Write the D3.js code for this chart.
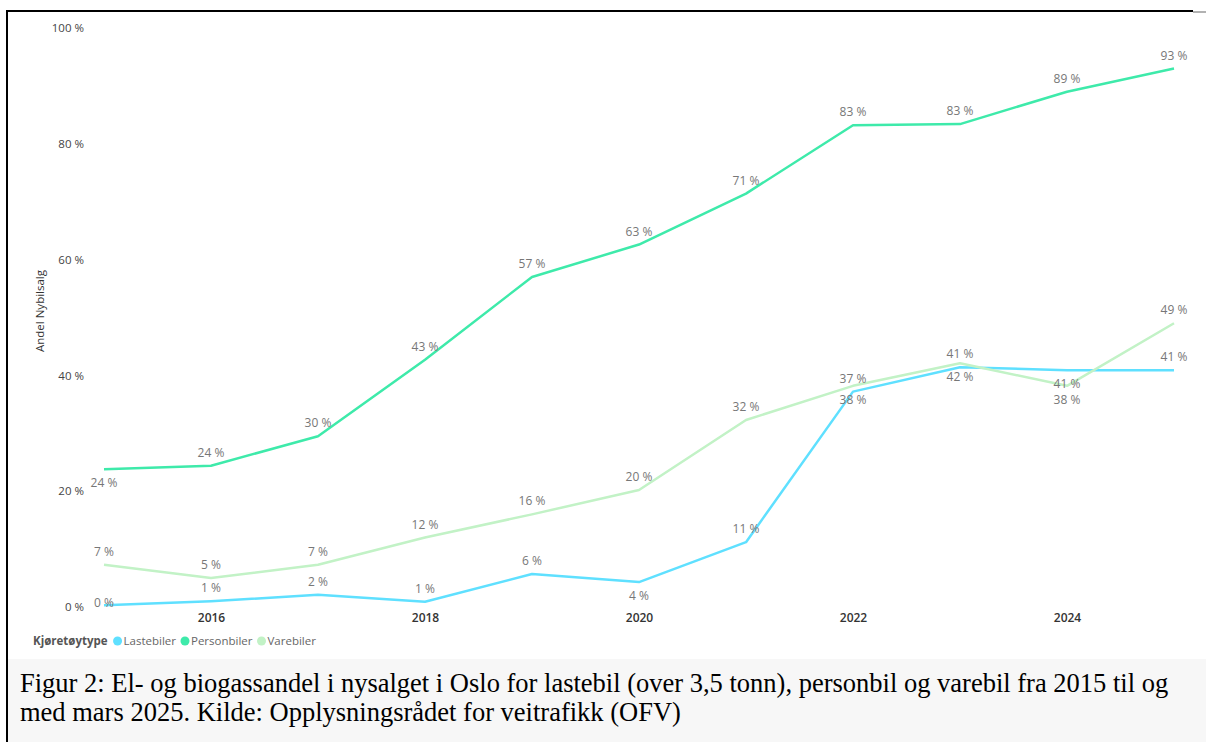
<!DOCTYPE html>
<html>
<head>
<meta charset="utf-8">
<script src="https://cdn.jsdelivr.net/npm/d3@7"></script>
<style>
  body { margin: 0; background: #fff; }
  svg { display: block; }
</style>
</head>
<body>
<svg id="chart" width="1206" height="742"></svg>
<script>
const years = [2015, 2016, 2017, 2018, 2019, 2020, 2021, 2022, 2023, 2024, 2025];
const lastebiler = [0.3, 1.0, 2.1, 0.9, 5.7, 4.3, 11.2, 37.2, 41.4, 40.9, 40.9];
const personbiler = [23.8, 24.4, 29.5, 42.7, 57.0, 62.6, 71.4, 83.2, 83.4, 89.0, 93.0];
const varebiler = [7.3, 5.0, 7.3, 12.0, 16.0, 20.2, 32.3, 38.2, 42.1, 38.2, 49.0];
const yTicks = [0, 20, 40, 60, 80, 100];
const xTicks = [2016, 2018, 2020, 2022, 2024];

// which labels Power BI pushed below the line (by year)
const series = [
  { name: "Lastebiler", values: lastebiler, color: "#5fe0ff", below: [2020, 2024], mid: [2015] },
  { name: "Personbiler", values: personbiler, color: "#3eeaaa", below: [2015], mid: [] },
  { name: "Varebiler", values: varebiler, color: "#c2f2c6", below: [2022, 2023, 2024], mid: [] }
];

const svg = d3.select("#chart");
const font = "'Open Sans', 'Noto Sans', sans-serif";

// caption background + frame
svg.append("rect").attr("x", 7).attr("y", 659).attr("width", 1199).attr("height", 83).attr("fill", "#f7f7f7");
svg.append("line").attr("x1", 6).attr("x2", 1193).attr("y1", 11).attr("y2", 11)
  .attr("stroke", "#000").attr("stroke-width", 2);
svg.append("line").attr("x1", 1193).attr("x2", 1206).attr("y1", 12).attr("y2", 12)
  .attr("stroke", "#999").attr("stroke-width", 1.5);
svg.append("line").attr("x1", 7).attr("x2", 7).attr("y1", 10).attr("y2", 742)
  .attr("stroke", "#000").attr("stroke-width", 2);

const x = d3.scaleLinear().domain([2015, 2025]).range([104, 1174]);
const y = d3.scaleLinear().domain([0, 100]).range([607, 28]);

const yAxis = svg.append("g")
  .attr("transform", "translate(86,0)")
  .call(d3.axisLeft(y).tickValues(yTicks).tickFormat(d => d + " %").tickSize(0).tickPadding(2));
yAxis.select(".domain").remove();
yAxis.selectAll("text").attr("font-family", font).attr("font-size", 11.5).attr("fill", "#444");

const xAxis = svg.append("g")
  .attr("transform", "translate(0,611)")
  .call(d3.axisBottom(x).tickValues(xTicks).tickFormat(d3.format("d")).tickSize(0).tickPadding(2));
xAxis.select(".domain").remove();
xAxis.selectAll("text").attr("font-family", font).attr("font-size", 12)
  .attr("font-weight", 600).attr("fill", "#333");

svg.append("text")
  .attr("transform", "translate(44,311) rotate(-90)")
  .attr("text-anchor", "middle")
  .attr("font-family", font).attr("font-size", 11.5).attr("fill", "#333")
  .text("Andel Nybilsalg");

const line = d3.line().x((d, i) => x(years[i])).y(d => y(d));

series.forEach(s => {
  svg.append("path")
    .datum(s.values)
    .attr("fill", "none")
    .attr("stroke", s.color)
    .attr("stroke-width", 2.5)
    .attr("stroke-linejoin", "round")
    .attr("d", line);
});

series.forEach(s => {
  svg.append("g").selectAll("text")
    .data(s.values)
    .join("text")
    .attr("x", (d, i) => x(years[i]))
    .attr("y", (d, i) => {
      const yr = years[i];
      if (s.mid.includes(yr)) return y(d) + 2;
      return s.below.includes(yr) ? y(d) + 18 : y(d) - 9;
    })
    .attr("text-anchor", "middle")
    .attr("font-family", font).attr("font-size", 12).attr("fill", "#777")
    .text(d => Math.round(d) + " %");
});

// legend
const legend = svg.append("g").attr("transform", "translate(33,645)");
const title = legend.append("text").attr("x", 0).attr("y", 0)
  .attr("font-family", font).attr("font-size", 11.5).attr("font-weight", 700).attr("fill", "#555")
  .text("Kjøretøytype");
let lx = title.node().getComputedTextLength() + 10;
series.forEach(s => {
  legend.append("circle").attr("cx", lx).attr("cy", -4).attr("r", 4.5).attr("fill", s.color);
  const t = legend.append("text").attr("x", lx + 6).attr("y", 0)
    .attr("font-family", font).attr("font-size", 11.5).attr("fill", "#666")
    .text(s.name);
  lx += 6 + t.node().getComputedTextLength() + 9;
});

// caption
const caption = [
  "Figur 2: El- og biogassandel i nysalget i Oslo for lastebil (over 3,5 tonn), personbil og varebil fra 2015 til og",
  "med mars 2025. Kilde: Opplysningsrådet for veitrafikk (OFV)"
];
svg.append("g").selectAll("text")
  .data(caption)
  .join("text")
  .attr("x", 20)
  .attr("y", (d, i) => 692 + i * 29)
  .attr("font-family", "'Liberation Serif', 'Times New Roman', serif")
  .attr("font-size", 26.5)
  .attr("fill", "#000")
  .text(d => d);
</script>
</body>
</html>
